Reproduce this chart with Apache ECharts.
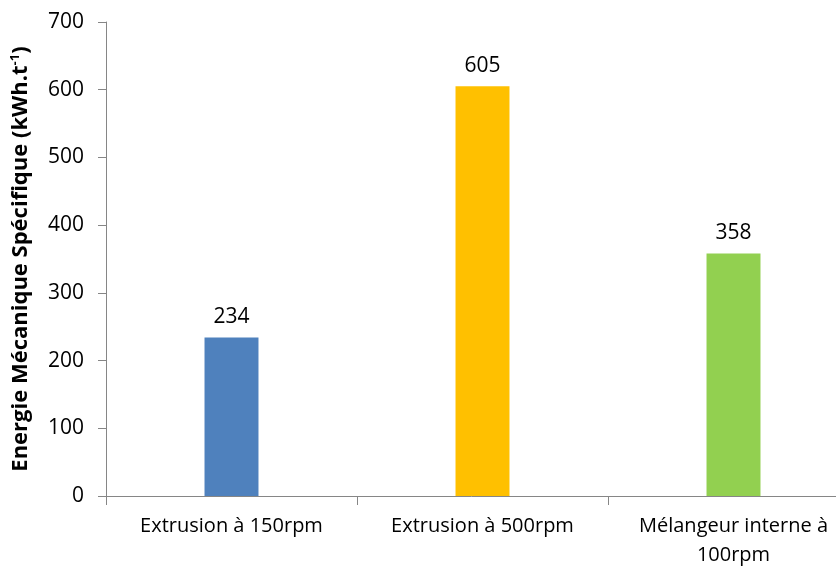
<!DOCTYPE html>
<html><head><meta charset="utf-8">
<script src="https://cdn.jsdelivr.net/npm/echarts@6/dist/echarts.min.js"></script>
<style>html,body{margin:0;padding:0;background:#fff}#c{width:836px;height:568px}</style>
</head><body><div id="c"></div>
<script>
const categories = ["Extrusion à 150rpm", "Extrusion à 500rpm", "Mélangeur interne à\n100rpm"];
const values = [234, 605, 358];
const colors = ["#4F81BD", "#FFC000", "#92D050"];
const yTicks = [0, 100, 200, 300, 400, 500, 600, 700];

const chart = echarts.init(document.getElementById('c'));
const font = "'Open Sans', 'Noto Sans', sans-serif";
chart.setOption({
  animation: false,
  grid: {left: 106, top: 22, width: 753, height: 474, containLabel: false, outerBoundsMode: 'none'},
  xAxis: {
    type: 'category', data: categories,
    axisLine: {lineStyle: {color: '#868686', width: 1}},
    axisTick: {show: true, length: 9, lineStyle: {color: '#868686'}},
    axisLabel: {color: '#000', fontFamily: font, fontSize: 20, margin: 16, lineHeight: 29, interval: 0}
  },
  yAxis: {
    type: 'value', min: yTicks[0], max: yTicks[yTicks.length-1], interval: 100,
    axisLine: {show: true, lineStyle: {color: '#868686', width: 1}},
    axisTick: {show: true, length: 8, lineStyle: {color: '#868686'}},
    splitLine: {show: false},
    axisLabel: {color: '#000', fontFamily: font, fontSize: 21, margin: 22},
    name: '{t|Energie Mécanique Spécifique (kWh.t}{s|-1}{t|)}',
    nameLocation: 'middle', nameGap: 74,
    nameTextStyle: {
      rich: {
        t: {fontFamily: font, fontSize: 22, fontWeight: 'bold', color: '#000'},
        s: {fontFamily: font, fontSize: 13, fontWeight: 'bold', color: '#000', verticalAlign: 'top', padding: [0,0,10,0]}
      }
    }
  },
  series: [{
    type: 'bar', barWidth: '21.5%',
    data: values.map((v, i) => ({value: v, itemStyle: {color: colors[i]}})),
    label: {show: true, position: 'top', distance: 10, color: '#000', fontFamily: font, fontSize: 21}
  }]
});
</script></body></html>
